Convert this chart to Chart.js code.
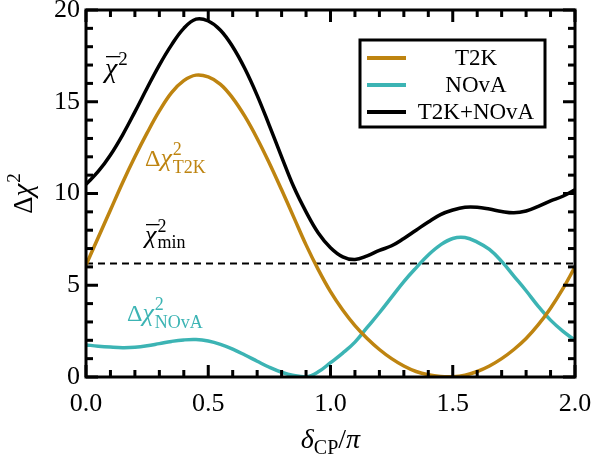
<!DOCTYPE html>
<html>
<head>
<meta charset="utf-8">
<script src="https://cdn.jsdelivr.net/npm/chart.js@4.4.1/dist/chart.umd.min.js"></script>
<style>
  html, body { margin: 0; padding: 0; background: #fff; }
</style>
</head>
<body>
<canvas id="chart" width="595" height="466"></canvas>
<script>
// delta_CP / pi
var deltaCP = [0, 0.05, 0.1, 0.15, 0.2, 0.25, 0.3, 0.35, 0.4, 0.45, 0.5, 0.55, 0.6, 0.65, 0.7, 0.75, 0.8, 0.85, 0.9, 0.95,
  1.0, 1.05, 1.1, 1.15, 1.2, 1.25, 1.3, 1.35, 1.4, 1.45, 1.5, 1.55, 1.6, 1.65, 1.7, 1.75, 1.8, 1.85, 1.9, 1.95, 2.0];

var chi2T2K = [6.1, 7.6, 9.1, 10.6, 12.0, 13.3, 14.5, 15.5, 16.15, 16.45, 16.35, 15.95, 15.2, 14.2, 13.0, 11.65, 10.2, 8.7, 7.2, 5.85,
  4.65, 3.65, 2.8, 2.1, 1.5, 1.0, 0.6, 0.3, 0.12, 0.03, 0.02, 0.1, 0.3, 0.6, 1.0, 1.5, 2.1, 2.85, 3.75, 4.8, 6.0];

var chi2NOvA = [1.75, 1.68, 1.63, 1.6, 1.62, 1.7, 1.82, 1.94, 2.02, 2.04, 1.96, 1.78, 1.52, 1.2, 0.86, 0.53, 0.26, 0.08, 0.0, 0.28,
  0.78, 1.3, 1.9, 2.7, 3.5, 4.35, 5.2, 5.95, 6.65, 7.2, 7.55, 7.6, 7.35, 6.95, 6.3, 5.5, 4.7, 3.85, 3.1, 2.5, 2.0];

var chi2Both = [10.5, 11.2, 12.1, 13.2, 14.45, 15.75, 17.0, 18.1, 19.0, 19.5, 19.4, 18.9, 18.0, 16.8, 15.35, 13.7, 12.0, 10.35, 9.0, 7.85,
  7.05, 6.55, 6.4, 6.6, 6.9, 7.15, 7.55, 8.0, 8.45, 8.85, 9.1, 9.25, 9.25, 9.15, 9.02, 8.95, 9.05, 9.3, 9.6, 9.85, 10.2];

var chi2Min = 6.18;
var seriesNames = ['T2K', 'NOvA', 'T2K+NOvA'];
var seriesColors = ['#BE8410', '#3CB4B4', '#000000'];

var serif = '"Liberation Serif", "Times New Roman", serif';

function pts(ys) {
  var out = [];
  for (var i = 0; i < deltaCP.length; i++) {
    out.push({x: deltaCP[i], y: ys[i]});
  }
  return out;
}

// draws text pieces one after another (sub/superscripts, italic)
function rich(ctx, x, y, parts, color) {
  ctx.save();
  ctx.fillStyle = color;
  ctx.textAlign = 'left';
  ctx.textBaseline = 'alphabetic';
  for (var i = 0; i < parts.length; i++) {
    var p = parts[i];
    ctx.font = (p.it ? 'italic ' : '') + p.size + 'px ' + serif;
    ctx.fillText(p.t, x, y + (p.dy || 0));
    var w = ctx.measureText(p.t).width;
    if (p.bar) {
      ctx.fillRect(x + 1, Math.round(y - p.size * 0.74), w + 2, 1.3);
    }
    if (!p.keep) x += w + (p.gap || 0);
  }
  ctx.restore();
}

function richWidth(ctx, parts) {
  var w = 0;
  for (var i = 0; i < parts.length; i++) {
    var p = parts[i];
    ctx.font = (p.it ? 'italic ' : '') + p.size + 'px ' + serif;
    if (!p.keep) w += ctx.measureText(p.t).width + (p.gap || 0);
  }
  return w;
}

// inward ticks on all four sides, in the scales' own pixels
var ticksIn = {
  id: 'ticksIn',
  afterDatasetsDraw: function(chart) {
    var c = chart.ctx, a = chart.chartArea;
    var xs = chart.scales.x, ys = chart.scales.y;
    c.save();
    c.fillStyle = '#000';
    for (var i = 0; i <= 20; i++) {
      var px = xs.getPixelForValue(i / 10);
      var len = (i % 5 === 0) ? 12 : 7;
      c.fillRect(px - 1.5, a.bottom - len, 3, len);
      c.fillRect(px - 1.5, a.top, 3, len);
    }
    for (var j = 0; j <= 20; j++) {
      var py = ys.getPixelForValue(j);
      var l2 = (j % 5 === 0) ? 12 : 7;
      c.fillRect(a.left, py - 1.5, l2, 3);
      c.fillRect(a.right - l2, py - 1.5, l2, 3);
    }
    c.restore();
  }
};

var frame = {
  id: 'frame',
  afterDraw: function(chart) {
    var c = chart.ctx;
    var a = chart.chartArea;
    c.save();
    c.strokeStyle = '#000';
    c.lineWidth = 3;
    c.strokeRect(a.left, a.top, a.right - a.left, a.bottom - a.top);

    // legend box
    var lx = 360, ly = 40, lw = 185, lh = 87;
    c.fillStyle = '#fff';
    c.fillRect(lx, ly, lw, lh);
    c.strokeRect(lx, ly, lw, lh);
    c.font = '23px ' + serif;
    c.textAlign = 'center';
    c.textBaseline = 'middle';
    for (var k = 0; k < 3; k++) {
      var ds = chart.data.datasets[k];
      var yy = ly + 18 + k * 27;
      c.fillStyle = ds.borderColor;
      c.fillRect(lx + 7, yy - 2, 39, 4);
      c.fillStyle = '#000';
      c.fillText(ds.label, lx + 116, yy + 1);
    }
    c.restore();

    // annotations
    rich(c, 105, 77, [
      {t: '\u03C7', size: 28, it: true, bar: true, gap: 1},
      {t: '2', size: 19, dy: -12}
    ], '#000');
    rich(c, 145, 166, [
      {t: '\u0394', size: 24},
      {t: '\u03C7', size: 26, it: true, gap: 1},
      {t: '2', size: 18, dy: -11, keep: true},
      {t: 'T2K', size: 18, dy: 7}
    ], seriesColors[0]);
    rich(c, 145, 243, [
      {t: '\u03C7', size: 26, it: true, bar: true, gap: 1},
      {t: '2', size: 18, dy: -11, keep: true},
      {t: 'min', size: 18, dy: 5}
    ], '#000');
    rich(c, 127, 321, [
      {t: '\u0394', size: 24},
      {t: '\u03C7', size: 26, it: true, gap: 1},
      {t: '2', size: 18, dy: -11, keep: true},
      {t: 'NOvA', size: 18, dy: 7}
    ], seriesColors[1]);

    // axis titles
    var xt = [
      {t: '\u03B4', size: 28, it: true},
      {t: 'CP', size: 20, dy: 6},
      {t: '/', size: 28},
      {t: '\u03C0', size: 28, it: true}
    ];
    var cx = (a.left + a.right) / 2;
    rich(c, cx - richWidth(c, xt) / 2, 448, xt, '#000');

    var yt = [
      {t: '\u0394', size: 27},
      {t: '\u03C7', size: 29, it: true, gap: 1},
      {t: '2', size: 19, dy: -12}
    ];
    c.save();
    c.translate(32, (a.top + a.bottom) / 2);
    c.rotate(-Math.PI / 2);
    rich(c, -richWidth(c, yt) / 2, 0, yt, '#000');
    c.restore();
  }
};

var grafico = new Chart(document.getElementById('chart'), {
  type: 'line',
  data: {
    datasets: [
      {label: seriesNames[0], data: pts(chi2T2K), borderColor: seriesColors[0], borderWidth: 3.5, pointRadius: 0, tension: 0.4, fill: false},
      {label: seriesNames[1], data: pts(chi2NOvA), borderColor: seriesColors[1], borderWidth: 3.5, pointRadius: 0, tension: 0.4, fill: false},
      {label: seriesNames[2], data: pts(chi2Both), borderColor: seriesColors[2], borderWidth: 3.5, pointRadius: 0, tension: 0.4, fill: false},
      {label: 'min', data: [{x: 0, y: chi2Min}, {x: 2, y: chi2Min}], borderColor: '#000', borderWidth: 2, borderDash: [7, 5], pointRadius: 0, fill: false}
    ]
  },
  options: {
    responsive: false,
    animation: false,
    layout: { padding: { top: 10, right: 20, left: 0, bottom: 0 } },
    plugins: { legend: { display: false }, tooltip: { enabled: false } },
    scales: {
      x: {
        type: 'linear', min: 0, max: 2,
        grid: { display: false, drawTicks: false },
        border: { display: false },
        ticks: {
          stepSize: 0.5, padding: 12, color: '#000',
          font: { family: serif, size: 26 },
          callback: function(v) { return v.toFixed(1); }
        },
        afterFit: function(s) { s.height = 89; s.paddingLeft = 0; s.paddingRight = 0; }
      },
      y: {
        type: 'linear', min: 0, max: 20,
        grid: { display: false, drawTicks: false },
        border: { display: false },
        ticks: {
          stepSize: 5, padding: 6, color: '#000',
          font: { family: serif, size: 26 }
        },
        afterFit: function(s) { s.width = 86; s.paddingTop = 0; s.paddingBottom = 0; }
      }
    }
  },
  plugins: [ticksIn, frame]
});
</script>
</body>
</html>
